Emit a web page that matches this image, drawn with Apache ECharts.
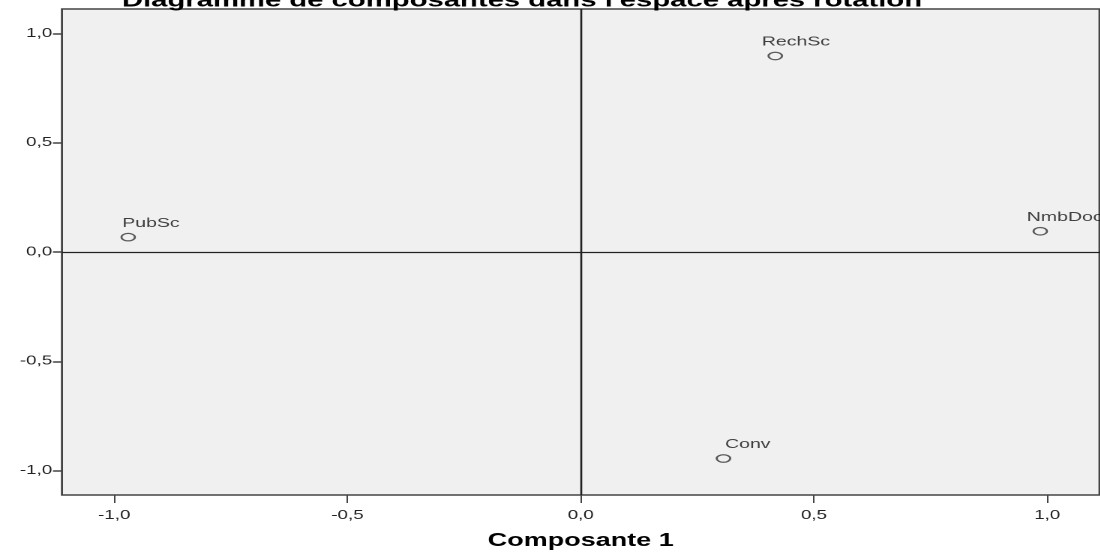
<!DOCTYPE html>
<html>
<head>
<meta charset="utf-8">
<script src="https://cdn.jsdelivr.net/npm/echarts@6/dist/echarts.min.js"></script>
<style>
html,body{margin:0;padding:0;background:#fff;}
#wrap{width:1100px;height:555px;overflow:hidden;position:relative;}
/* the reference chart is stretched horizontally (about 1.5x) */
#chart{width:733.333px;height:555px;transform:scaleX(1.5);transform-origin:0 0;}
</style>
</head>
<body>
<div id="wrap"><div id="chart"></div></div>
<script>
const variables = ['PubSc', 'RechSc', 'NmbDoc', 'Conv'];
const comp1 = [-0.970, 0.417, 0.985, 0.306];
const comp2 = [0.068, 0.897, 0.095, -0.945];
const tickValues = [-1.0, -0.5, 0.0, 0.5, 1.0];
const chartTitle = "Diagramme de composantes dans l'espace après rotation";
const xName = 'Composante 1';

const labelOffsets = { PubSc: [-4, 0], RechSc: [-9, 0], NmbDoc: [-9, 0], Conv: [1, 0] };
const FONT = "'Liberation Sans', Arial, sans-serif";
const fmt = v => v.toFixed(1).replace('.', ',');

const points = variables.map((name, i) => ({
  name: name,
  value: [comp1[i], comp2[i]],
  label: { offset: labelOffsets[name] }
}));

const chart = echarts.init(document.getElementById('chart'), null, { renderer: 'canvas', devicePixelRatio: 2 });
chart.setOption({
  backgroundColor: '#ffffff',
  animation: false,
  title: {
    text: chartTitle,
    left: 343,
    textAlign: 'center',
    top: -14,
    textStyle: { fontFamily: FONT, fontWeight: 'bold', fontSize: 19.5, color: '#000' }
  },
  grid: {
    left: 41.3, right: -2, top: 9, bottom: 57,
    show: true, backgroundColor: '#f0f0f0', borderColor: '#444', borderWidth: 1.4,
    containLabel: false
  },
  xAxis: {
    type: 'value', min: -1.112, max: 1.112,
    name: xName, nameLocation: 'middle', nameGap: 37,
    nameTextStyle: { fontFamily: FONT, fontWeight: 'bold', fontSize: 18, color: '#000' },
    axisLine: { show: false, onZero: false },
    splitLine: { show: false },
    axisTick: { show: true, customValues: tickValues, length: 8, inside: false, lineStyle: { color: '#444', width: 1 } },
    axisLabel: { customValues: tickValues, formatter: fmt, fontFamily: FONT, fontSize: 12.5, color: '#222', margin: 14 }
  },
  yAxis: {
    type: 'value', min: -1.112, max: 1.112,
    axisLine: { show: false, onZero: false },
    splitLine: { show: false },
    axisTick: { show: true, customValues: tickValues, length: 6, inside: false, lineStyle: { color: '#444', width: 1.5 } },
    axisLabel: { customValues: tickValues, formatter: fmt, fontFamily: FONT, fontSize: 12.5, color: '#222', margin: 6.5 }
  },
  series: [{
    type: 'scatter',
    data: points,
    symbol: 'circle',
    symbolSize: [9, 7.5],
    itemStyle: { color: 'rgba(0,0,0,0)', borderColor: '#333', borderWidth: 1.3 },
    label: {
      show: true, position: 'top', align: 'left', distance: 3,
      formatter: p => p.name,
      fontFamily: FONT, fontSize: 13, color: '#111'
    },
    markLine: {
      silent: true, symbol: 'none',
      label: { show: false },
      lineStyle: { color: '#222', type: 'solid', width: 1.3 },
      data: [{ xAxis: 0 }, { yAxis: 0 }]
    }
  }]
});
</script>
</body>
</html>
